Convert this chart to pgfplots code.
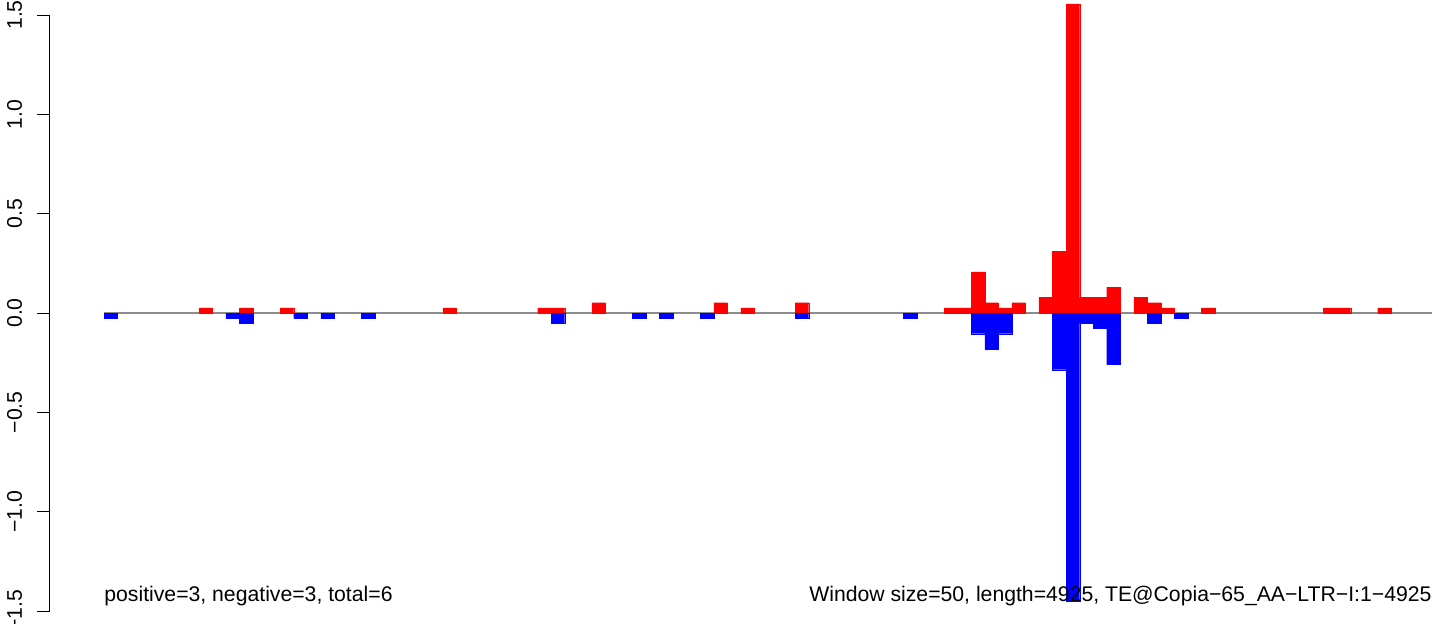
\documentclass[border=0pt]{standalone}
\usepackage{pgfplots}
\pgfplotsset{compat=1.18}
\usepackage{fontspec}
\setmainfont{Liberation Sans}

\pgfplotstableread{
x y
375 0.0259
525 0.0259
675 0.0259
1275 0.0259
1625 0.0259
1675 0.0259
1825 0.0519
2275 0.0519
2375 0.0259
2575 0.0519
3125 0.0259
3175 0.0259
3225 0.2074
3275 0.0519
3325 0.0259
3375 0.0519
3475 0.0778
3525 0.3112
3575 1.5558
3625 0.0778
3675 0.0778
3725 0.1297
3825 0.0778
3875 0.0519
3925 0.0259
4075 0.0259
4525 0.0259
4575 0.0259
4725 0.0259
}\pos

\pgfplotstableread{
x y
25 -0.0259
475 -0.0259
525 -0.0519
725 -0.0259
825 -0.0259
975 -0.0259
1675 -0.0519
1975 -0.0259
2075 -0.0259
2225 -0.0259
2575 -0.0259
2975 -0.0259
3225 -0.1037
3275 -0.1815
3325 -0.1037
3525 -0.2852
3575 -1.4521
3625 -0.0519
3675 -0.0778
3725 -0.2593
3875 -0.0519
3975 -0.0259
}\neg

\begin{document}
\begin{tikzpicture}
\begin{axis}[
  scale only axis, width=691.05pt, height=298pt,
  xmin=-200, xmax=4900, ymin=-1.5, ymax=1.5,
  axis x line=none, axis y line*=left,
  clip=false,
  ytick={-1.5,-1,-0.5,0,0.5,1,1.5},
  yticklabels={−1.5,−1.0,−0.5,0.0,0.5,1.0,1.5},
  tick align=outside, major tick length=6.5pt,
  tick style={black, line width=0.5pt},
  y axis line style={black, line width=0.5pt},
  yticklabel shift=7.5pt,
  yticklabel style={rotate=90, anchor=base, font=\fontsize{10.6}{12}\selectfont},
]
\addplot[color={rgb,255:red,140;green,140;blue,140}, line width=0.8pt] coordinates {(0,0) (4900,0)};
\addplot[ybar, bar width=50, bar shift=0pt, fill=red, draw=red, line width=0.1pt] table[x=x,y=y] {\pos};
\addplot[ybar, bar width=50, bar shift=0pt, fill=blue, draw=blue, line width=0.1pt] table[x=x,y=y] {\neg};
\node[anchor=base west, inner sep=0pt, font=\fontsize{10.6}{12}\selectfont] at (axis cs:0,-1.4532) {positive=3, negative=3, total=6};
\node[anchor=base east, inner sep=0pt, font=\fontsize{10.6}{12}\selectfont] at (axis cs:4900,-1.4532) {Window size=50, length=4925, TE@Copia−65\_AA−LTR−I:1−4925};
\coordinate (BL) at (axis cs:-383.8,-1.5604);
\coordinate (TR) at (axis cs:4944.6,1.5755);
\end{axis}
\pgfresetboundingbox
\path[use as bounding box] (BL) rectangle (TR);
\end{tikzpicture}
\end{document}
